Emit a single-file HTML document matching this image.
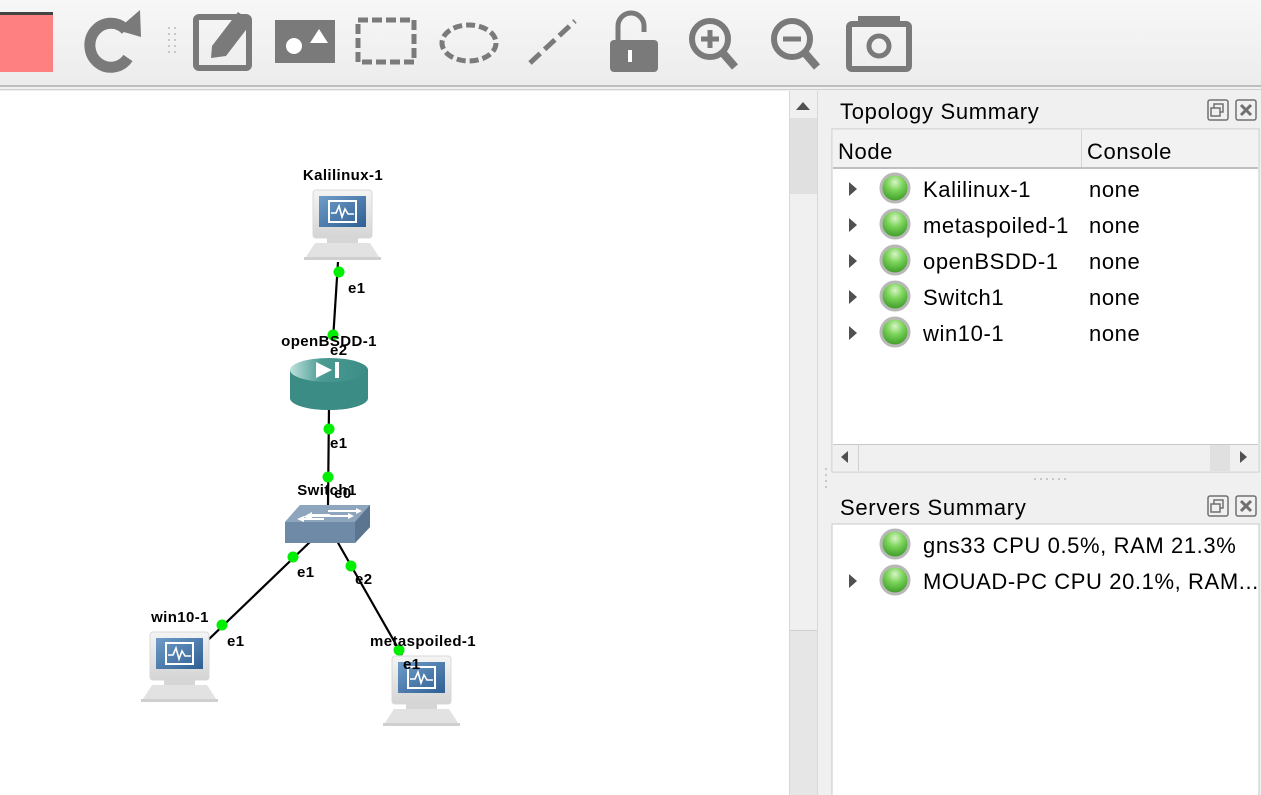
<!DOCTYPE html>
<html><head><meta charset="utf-8"><style>
html,body{margin:0;padding:0;width:1261px;height:795px;overflow:hidden;background:#f0f0f0;font-family:"Liberation Sans",sans-serif;}
svg{position:absolute;left:0;top:0}
</style></head><body>
<svg width="1261" height="795" viewBox="0 0 1261 795" xmlns="http://www.w3.org/2000/svg">
<defs>
<linearGradient id="tb" x1="0" y1="0" x2="0" y2="1"><stop offset="0" stop-color="#f7f7f7"/><stop offset="1" stop-color="#ececec"/></linearGradient>
<radialGradient id="ball" cx="0.5" cy="0.3" r="0.65"><stop offset="0" stop-color="#d8f5c8"/><stop offset="0.45" stop-color="#7cd45a"/><stop offset="1" stop-color="#3f9e2a"/></radialGradient>
<linearGradient id="scr" x1="0" y1="0" x2="1" y2="1"><stop offset="0" stop-color="#6f9cc8"/><stop offset="1" stop-color="#2f5f93"/></linearGradient>
<linearGradient id="mon" x1="0" y1="0" x2="0" y2="1"><stop offset="0" stop-color="#f4f4f4"/><stop offset="1" stop-color="#d4d4d4"/></linearGradient>
<linearGradient id="rt" x1="0" y1="0" x2="1" y2="0"><stop offset="0" stop-color="#bfe0dc"/><stop offset="0.4" stop-color="#4a9b93"/><stop offset="1" stop-color="#3a8c84"/></linearGradient>
<g id="pc">
  <rect x="0" y="0" width="59" height="48" rx="3" fill="url(#mon)" stroke="#d8d8d8"/>
  <rect x="6" y="6" width="47" height="31" fill="url(#scr)"/>
  <rect x="16" y="11" width="27" height="21" fill="none" stroke="#fff" stroke-width="2"/>
  <polyline points="18,23 23,23 26,16 29,27 32,19 35,24 41,24" fill="none" stroke="#fff" stroke-width="1.6"/>
  <rect x="14" y="48" width="31" height="5" fill="#d6d6d6"/>
  <path d="M2 53 L57 53 L68 70 L-9 70 Z" fill="#e2e2e2"/>
  <rect x="-9" y="67" width="77" height="3" fill="#cfcfcf"/>
</g>
</defs>
<!-- toolbar -->
<rect x="0" y="0" width="1261" height="85" fill="url(#tb)"/>
<rect x="0" y="85" width="1261" height="2" fill="#bdbdbd"/>
<rect x="0" y="89" width="1261" height="1" fill="#d0d0d0"/>
<rect x="0" y="12" width="53" height="60" fill="#ff8080"/>
<rect x="0" y="12" width="53" height="3" fill="#444"/>
<path d="M126 30 A21 22 0 1 0 128 58" fill="none" stroke="#7a7a7a" stroke-width="11"/>
<path d="M117 30 L140 10 L141 37 Z" fill="#7a7a7a"/>
<g fill="#c8c8c8"><rect x="168" y="27" width="2" height="2"/><rect x="174" y="27" width="2" height="2"/><rect x="168" y="33" width="2" height="2"/><rect x="174" y="33" width="2" height="2"/><rect x="168" y="39" width="2" height="2"/><rect x="174" y="39" width="2" height="2"/><rect x="168" y="45" width="2" height="2"/><rect x="174" y="45" width="2" height="2"/><rect x="168" y="51" width="2" height="2"/><rect x="174" y="51" width="2" height="2"/></g>
<rect x="196" y="17" width="53" height="51" rx="3" fill="none" stroke="#7a7a7a" stroke-width="6"/>
<path d="M212 46 L238 12 L252 22 L226 56 L211 58 Z" fill="#7a7a7a"/>
<rect x="275" y="20" width="60" height="43" fill="#7a7a7a"/>
<circle cx="294" cy="46" r="8" fill="#fff"/><path d="M310 43 L319 29 L328 43 Z" fill="#fff"/>
<rect x="358" y="20" width="56" height="42" fill="none" stroke="#7a7a7a" stroke-width="5" stroke-dasharray="10 4"/>
<ellipse cx="469" cy="43" rx="27" ry="18" fill="none" stroke="#7a7a7a" stroke-width="5" stroke-dasharray="9 4"/>
<path d="M530 63 L575 21" stroke="#7a7a7a" stroke-width="5" stroke-dasharray="14 6"/>
<path d="M618 40 L618 26 A13 13 0 0 1 644 26 L644 32" fill="none" stroke="#7a7a7a" stroke-width="5"/>
<rect x="610" y="40" width="48" height="32" rx="4" fill="#7a7a7a"/><rect x="628" y="50" width="4" height="12" fill="#fff"/>
<circle cx="710" cy="39" r="18" fill="none" stroke="#7a7a7a" stroke-width="6"/><path d="M722 52 L735 67" stroke="#7a7a7a" stroke-width="8"/>
<path d="M710 30 V48 M701 39 H719" stroke="#7a7a7a" stroke-width="5"/>
<circle cx="792" cy="39" r="18" fill="none" stroke="#7a7a7a" stroke-width="6"/><path d="M804 52 L817 67" stroke="#7a7a7a" stroke-width="8"/>
<path d="M783 39 H801" stroke="#7a7a7a" stroke-width="5"/>
<rect x="849" y="24" width="60" height="45" rx="3" fill="none" stroke="#7a7a7a" stroke-width="6"/>
<rect x="858" y="16" width="42" height="10" fill="#7a7a7a"/>
<circle cx="879" cy="46" r="10" fill="none" stroke="#7a7a7a" stroke-width="5"/>
<!-- canvas -->
<rect x="0" y="91" width="789" height="704" fill="#fff"/>
<rect x="789" y="91" width="29" height="704" fill="#f0f0f0"/>
<rect x="789" y="91" width="1" height="704" fill="#d8d8d8"/>
<rect x="817" y="91" width="1" height="704" fill="#d8d8d8"/>
<path d="M796 110 L803 102 L810 110 Z" fill="#505050"/>
<rect x="790" y="118" width="27" height="76" fill="#e0e0e0"/>
<rect x="790" y="630" width="27" height="165" fill="#e6e6e6"/>
<rect x="790" y="630" width="27" height="1" fill="#cfcfcf"/>
<!-- links -->
<g stroke="#000" stroke-width="2.2">
<line x1="338" y1="262" x2="333" y2="340"/>
<line x1="329" y1="406" x2="328" y2="505"/>
<line x1="311" y1="541" x2="207" y2="641"/>
<line x1="337" y1="541" x2="402" y2="655"/>
</g>
<!-- router -->
<path d="M290 370 L290 398 A39 12 0 0 0 368 398 L368 370 Z" fill="#3a8c84"/>
<ellipse cx="329" cy="398" rx="39" ry="12" fill="#3a8c84"/>
<ellipse cx="329" cy="370" rx="39" ry="12" fill="url(#rt)"/>
<path d="M316 362 L332 370 L316 378 Z" fill="#fff"/><rect x="335" y="362" width="4" height="16" fill="#fff"/>
<!-- switch -->
<path d="M285 522 L300 505 L370 505 L370 527 L355 543 L285 543 Z" fill="#6f8aa6"/>
<path d="M285 522 L300 505 L370 505 L355 522 Z" fill="#8ea6bd"/>
<path d="M355 522 L370 505 L370 527 L355 543 Z" fill="#5b7490"/>
<g fill="#fff"><path d="M303 517 L312 512 L312 514 L330 514 L330 517 L312 517 L312 519Z"/><path d="M328 510 L356 510 L356 508 L362 511 L356 514 L356 512 L328 512Z"/><path d="M297 519 L304 516 L304 518 L324 518 L324 520 L304 520 L304 522Z"/><path d="M322 515 L348 515 L348 513 L354 516 L348 519 L348 517 L322 517Z"/></g>
<!-- pcs -->
<use href="#pc" x="313" y="190"/>
<use href="#pc" x="150" y="632"/>
<use href="#pc" x="392" y="656"/>
<!-- dots -->
<g fill="#00ee00">
<circle cx="339" cy="272" r="5.5"/><circle cx="333" cy="335" r="5.5"/>
<circle cx="329" cy="429" r="5.5"/><circle cx="328" cy="477" r="5.5"/>
<circle cx="293" cy="557" r="5.5"/><circle cx="222" cy="625" r="5.5"/>
<circle cx="351" cy="566" r="5.5"/><circle cx="399" cy="650" r="5.5"/>
</g>
<g font-family="Liberation Sans,sans-serif" font-weight="bold" font-size="15" letter-spacing="0.4" fill="#000">
<text x="343" y="180" text-anchor="middle">Kalilinux-1</text>
<text x="348" y="293">e1</text>
<text x="329" y="346" text-anchor="middle">openBSDD-1</text>
<text x="330" y="355">e2</text>
<text x="330" y="448">e1</text>
<text x="327" y="495" text-anchor="middle">Switch1</text>
<text x="334" y="498">e0</text>
<text x="297" y="577">e1</text>
<text x="355" y="584">e2</text>
<text x="180" y="622" text-anchor="middle">win10-1</text>
<text x="227" y="646">e1</text>
<text x="423" y="646" text-anchor="middle">metaspoiled-1</text>
<text x="403" y="669">e1</text>
</g>
<!-- right panel -->
<g fill="#c8c8c8"><rect x="825" y="468" width="2" height="2"/><rect x="825" y="474" width="2" height="2"/><rect x="825" y="480" width="2" height="2"/><rect x="825" y="486" width="2" height="2"/><rect x="1034" y="478" width="2" height="2"/><rect x="1040" y="478" width="2" height="2"/><rect x="1046" y="478" width="2" height="2"/><rect x="1052" y="478" width="2" height="2"/><rect x="1058" y="478" width="2" height="2"/><rect x="1064" y="478" width="2" height="2"/></g>
<g font-family="Liberation Sans,sans-serif" font-size="22" letter-spacing="0.7" fill="#000">
<text x="840" y="119">Topology Summary</text>
<text x="840" y="515">Servers Summary</text>
</g>
<g fill="none" stroke="#707070" stroke-width="1.5">
<rect x="1208" y="100" width="20" height="20" rx="2"/><rect x="1236" y="100" width="20" height="20" rx="2"/>
<rect x="1214" y="104" width="9" height="8"/><rect x="1211" y="108" width="9" height="8" fill="#f0f0f0"/>
<rect x="1208" y="496" width="20" height="20" rx="2"/><rect x="1236" y="496" width="20" height="20" rx="2"/>
<rect x="1214" y="500" width="9" height="8"/><rect x="1211" y="504" width="9" height="8" fill="#f0f0f0"/>
</g>
<path d="M1241 105 L1251 115 M1251 105 L1241 115 M1241 501 L1251 511 M1251 501 L1241 511" stroke="#707070" stroke-width="3"/>
<rect x="832" y="129" width="427" height="343" fill="#fff" stroke="#c8c8c8"/>
<rect x="833" y="130" width="425" height="37" fill="#f2f2f2"/>
<rect x="833" y="167" width="425" height="2" fill="#c0c0c0"/>
<rect x="1081" y="130" width="1" height="37" fill="#d4d4d4"/>
<rect x="833" y="444" width="425" height="27" fill="#f0f0f0"/>
<rect x="833" y="444" width="425" height="1" fill="#c8c8c8"/>
<rect x="858" y="444" width="1" height="27" fill="#d0d0d0"/>
<rect x="1210" y="445" width="20" height="26" fill="#e0e0e0"/>
<path d="M1240 451 L1247 457 L1240 463 Z" fill="#505050"/>
<path d="M848 451 L841 457 L848 463 Z" fill="#505050"/>
<rect x="832" y="524" width="427" height="280" fill="#fff" stroke="#c8c8c8"/>
<g font-family="Liberation Sans,sans-serif" font-size="22" letter-spacing="0.6" fill="#000">
<text x="838" y="159">Node</text><text x="1087" y="159">Console</text>
<text x="923" y="197">Kalilinux-1</text><text x="1089" y="197">none</text>
<text x="923" y="233">metaspoiled-1</text><text x="1089" y="233">none</text>
<text x="923" y="269">openBSDD-1</text><text x="1089" y="269">none</text>
<text x="923" y="305">Switch1</text><text x="1089" y="305">none</text>
<text x="923" y="341">win10-1</text><text x="1089" y="341">none</text>
<text x="923" y="553">gns33 CPU 0.5%, RAM 21.3%</text>
<text x="923" y="589">MOUAD-PC CPU 20.1%, RAM...</text>
</g>
<g fill="#505050">
<path d="M849 182 L857 189 L849 196 Z"/><path d="M849 218 L857 225 L849 232 Z"/><path d="M849 254 L857 261 L849 268 Z"/><path d="M849 290 L857 297 L849 304 Z"/><path d="M849 326 L857 333 L849 340 Z"/><path d="M849 574 L857 581 L849 588 Z"/>
</g>
<g stroke="#b8b8b8" stroke-width="3" fill="url(#ball)">
<circle cx="895" cy="188" r="14"/><circle cx="895" cy="224" r="14"/><circle cx="895" cy="260" r="14"/><circle cx="895" cy="296" r="14"/><circle cx="895" cy="332" r="14"/><circle cx="895" cy="544" r="14"/><circle cx="895" cy="580" r="14"/>
</g>
</svg>
</body></html>
